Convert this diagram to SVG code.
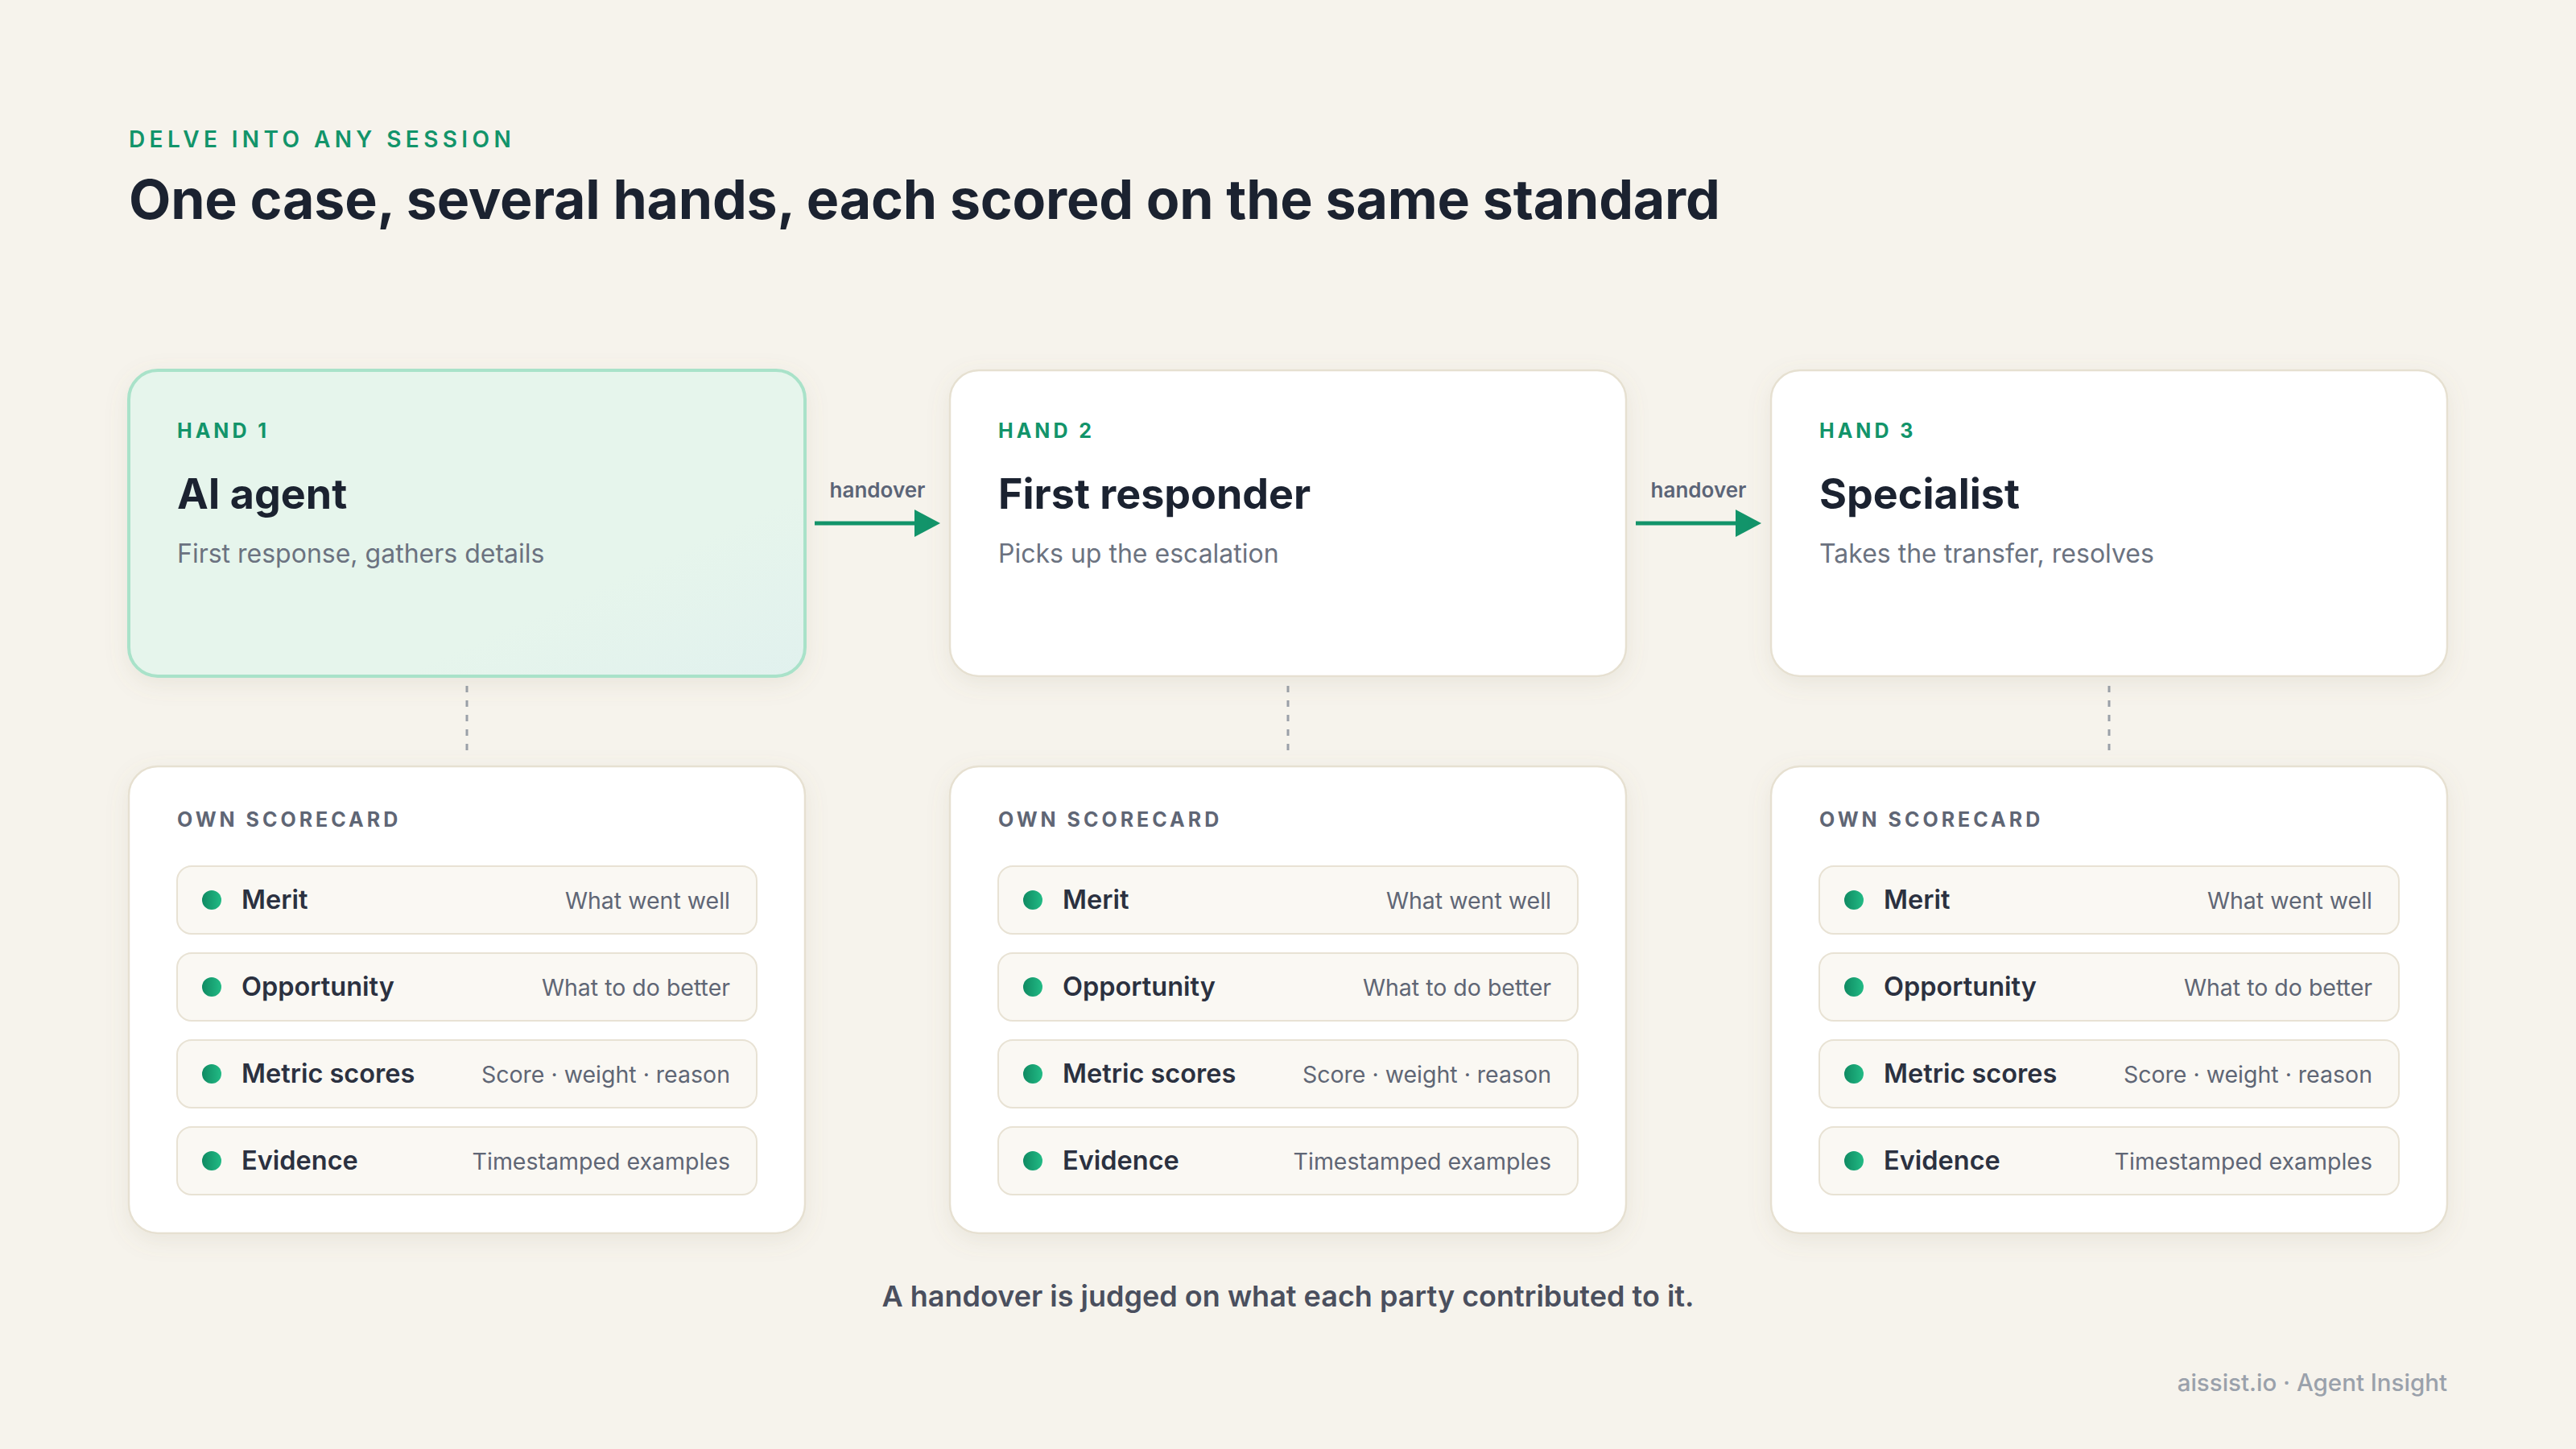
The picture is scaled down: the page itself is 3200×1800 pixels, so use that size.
<svg xmlns="http://www.w3.org/2000/svg" width="3200" height="1800" viewBox="0 0 3200 1800">
<defs>
<style>
.bg{fill:#f6f3ec}
.eyebrow{font-family:Inter,"Liberation Sans",sans-serif;font-weight:600;font-size:28px;letter-spacing:5.4px;fill:#12946a}
.title{font-family:Inter,"Liberation Sans",sans-serif;font-weight:700;font-size:68px;letter-spacing:-0.2px;fill:#1b2230}
.card{fill:#ffffff;stroke:#e6e0d1;stroke-width:2.5}
.card-hi{fill:url(#hiFill);stroke:#a9e2c9;stroke-width:4}
.hand{font-family:Inter,"Liberation Sans",sans-serif;font-weight:700;font-size:25px;letter-spacing:4px;fill:#12946a}
.name{font-family:Inter,"Liberation Sans",sans-serif;font-weight:700;font-size:52px;fill:#1b2230}
.desc{font-family:Inter,"Liberation Sans",sans-serif;font-weight:400;font-size:32px;fill:#6b7280}
.sc{font-family:Inter,"Liberation Sans",sans-serif;font-weight:700;font-size:25px;letter-spacing:4px;fill:#5f6675}
.row{fill:#faf8f3;stroke:#e8e2d4;stroke-width:2}
.lbl{font-family:Inter,"Liberation Sans",sans-serif;font-weight:600;font-size:32.5px;fill:#2b3140}
.val{font-family:Inter,"Liberation Sans",sans-serif;font-weight:400;font-size:28.5px;fill:#5f6675}
.ho{font-family:Inter,"Liberation Sans",sans-serif;font-weight:600;font-size:26px;fill:#5b6477}
.arrow{stroke:#12946a;stroke-width:5;fill:none}
.dash{stroke:#9aa0a8;stroke-width:3;stroke-dasharray:8 10;fill:none}
.caption{font-family:Inter,"Liberation Sans",sans-serif;font-weight:600;font-size:36px;fill:#4a4f5e}
.footer{font-family:Inter,"Liberation Sans",sans-serif;font-weight:500;font-size:29.5px;fill:#9aa1ab}
</style>
<linearGradient id="hiFill" x1="0" y1="0" x2="1" y2="1">
<stop offset="0" stop-color="#e6f5ec"/>
<stop offset="0.7" stop-color="#e6f5ec"/>
<stop offset="1" stop-color="#e1f1ee"/>
</linearGradient>
<linearGradient id="dot" x1="0" y1="0" x2="1" y2="0">
<stop offset="0" stop-color="#0f8a62"/>
<stop offset="1" stop-color="#22bb85"/>
</linearGradient>
<filter id="shadow" x="-10%" y="-10%" width="120%" height="130%">
<feDropShadow dx="0" dy="8" stdDeviation="14" flood-color="#8a7f60" flood-opacity="0.12"/>
</filter>
<marker id="ah" markerWidth="32" markerHeight="34" refX="0" refY="17" orient="auto" markerUnits="userSpaceOnUse">
<path d="M0,0 L32,17 L0,34 Z" fill="#12946a"/>
</marker>
</defs>
<rect class="bg" x="0" y="0" width="3200" height="1800"/>

<text class="eyebrow" x="160" y="183">DELVE INTO ANY SESSION</text>
<text class="title" x="160" y="272">One case, several hands, each scored on the same standard</text>

<g id="connectors">
<line class="arrow" x1="1012" y1="650" x2="1136" y2="650" marker-end="url(#ah)"/>
<text class="ho" x="1090" y="618" text-anchor="middle">handover</text>
<line class="arrow" x1="2032" y1="650" x2="2156" y2="650" marker-end="url(#ah)"/>
<text class="ho" x="2110" y="618" text-anchor="middle">handover</text>
<line class="dash" x1="580" y1="852" x2="580" y2="934"/>
<line class="dash" x1="1600" y1="852" x2="1600" y2="934"/>
<line class="dash" x1="2620" y1="852" x2="2620" y2="934"/>
</g>

<g id="hand1">
<rect class="card-hi" x="160" y="460" width="840" height="380" rx="36" filter="url(#shadow)"/>
<text class="hand" x="220" y="544">HAND 1</text>
<text class="name" x="220" y="632">AI agent</text>
<text class="desc" x="220" y="699">First response, gathers details</text>
</g>
<g id="hand2">
<rect class="card" x="1180" y="460" width="840" height="380" rx="36" filter="url(#shadow)"/>
<text class="hand" x="1240" y="544">HAND 2</text>
<text class="name" x="1240" y="632">First responder</text>
<text class="desc" x="1240" y="699">Picks up the escalation</text>
</g>
<g id="hand3">
<rect class="card" x="2200" y="460" width="840" height="380" rx="36" filter="url(#shadow)"/>
<text class="hand" x="2260" y="544">HAND 3</text>
<text class="name" x="2260" y="632">Specialist</text>
<text class="desc" x="2260" y="699">Takes the transfer, resolves</text>
</g>

<g id="scorecard1">
<rect class="card" x="160" y="952" width="840" height="580" rx="36" filter="url(#shadow)"/>
<text class="sc" x="220" y="1027">OWN SCORECARD</text>
<rect class="row" x="220" y="1076" width="720" height="84" rx="18"/>
<circle cx="263" cy="1118" r="12" fill="url(#dot)"/>
<text class="lbl" x="300" y="1129">Merit</text>
<text class="val" x="907" y="1129" text-anchor="end">What went well</text>
<rect class="row" x="220" y="1184" width="720" height="84" rx="18"/>
<circle cx="263" cy="1226" r="12" fill="url(#dot)"/>
<text class="lbl" x="300" y="1237">Opportunity</text>
<text class="val" x="907" y="1237" text-anchor="end">What to do better</text>
<rect class="row" x="220" y="1292" width="720" height="84" rx="18"/>
<circle cx="263" cy="1334" r="12" fill="url(#dot)"/>
<text class="lbl" x="300" y="1345">Metric scores</text>
<text class="val" x="907" y="1345" text-anchor="end">Score · weight · reason</text>
<rect class="row" x="220" y="1400" width="720" height="84" rx="18"/>
<circle cx="263" cy="1442" r="12" fill="url(#dot)"/>
<text class="lbl" x="300" y="1453">Evidence</text>
<text class="val" x="907" y="1453" text-anchor="end">Timestamped examples</text>
</g>

<g id="scorecard2">
<rect class="card" x="1180" y="952" width="840" height="580" rx="36" filter="url(#shadow)"/>
<text class="sc" x="1240" y="1027">OWN SCORECARD</text>
<rect class="row" x="1240" y="1076" width="720" height="84" rx="18"/>
<circle cx="1283" cy="1118" r="12" fill="url(#dot)"/>
<text class="lbl" x="1320" y="1129">Merit</text>
<text class="val" x="1927" y="1129" text-anchor="end">What went well</text>
<rect class="row" x="1240" y="1184" width="720" height="84" rx="18"/>
<circle cx="1283" cy="1226" r="12" fill="url(#dot)"/>
<text class="lbl" x="1320" y="1237">Opportunity</text>
<text class="val" x="1927" y="1237" text-anchor="end">What to do better</text>
<rect class="row" x="1240" y="1292" width="720" height="84" rx="18"/>
<circle cx="1283" cy="1334" r="12" fill="url(#dot)"/>
<text class="lbl" x="1320" y="1345">Metric scores</text>
<text class="val" x="1927" y="1345" text-anchor="end">Score · weight · reason</text>
<rect class="row" x="1240" y="1400" width="720" height="84" rx="18"/>
<circle cx="1283" cy="1442" r="12" fill="url(#dot)"/>
<text class="lbl" x="1320" y="1453">Evidence</text>
<text class="val" x="1927" y="1453" text-anchor="end">Timestamped examples</text>
</g>

<g id="scorecard3">
<rect class="card" x="2200" y="952" width="840" height="580" rx="36" filter="url(#shadow)"/>
<text class="sc" x="2260" y="1027">OWN SCORECARD</text>
<rect class="row" x="2260" y="1076" width="720" height="84" rx="18"/>
<circle cx="2303" cy="1118" r="12" fill="url(#dot)"/>
<text class="lbl" x="2340" y="1129">Merit</text>
<text class="val" x="2947" y="1129" text-anchor="end">What went well</text>
<rect class="row" x="2260" y="1184" width="720" height="84" rx="18"/>
<circle cx="2303" cy="1226" r="12" fill="url(#dot)"/>
<text class="lbl" x="2340" y="1237">Opportunity</text>
<text class="val" x="2947" y="1237" text-anchor="end">What to do better</text>
<rect class="row" x="2260" y="1292" width="720" height="84" rx="18"/>
<circle cx="2303" cy="1334" r="12" fill="url(#dot)"/>
<text class="lbl" x="2340" y="1345">Metric scores</text>
<text class="val" x="2947" y="1345" text-anchor="end">Score · weight · reason</text>
<rect class="row" x="2260" y="1400" width="720" height="84" rx="18"/>
<circle cx="2303" cy="1442" r="12" fill="url(#dot)"/>
<text class="lbl" x="2340" y="1453">Evidence</text>
<text class="val" x="2947" y="1453" text-anchor="end">Timestamped examples</text>
</g>

<text class="caption" x="1600" y="1623" text-anchor="middle">A handover is judged on what each party contributed to it.</text>
<text class="footer" x="3040" y="1728" text-anchor="end">aissist.io · Agent Insight</text>
</svg>
